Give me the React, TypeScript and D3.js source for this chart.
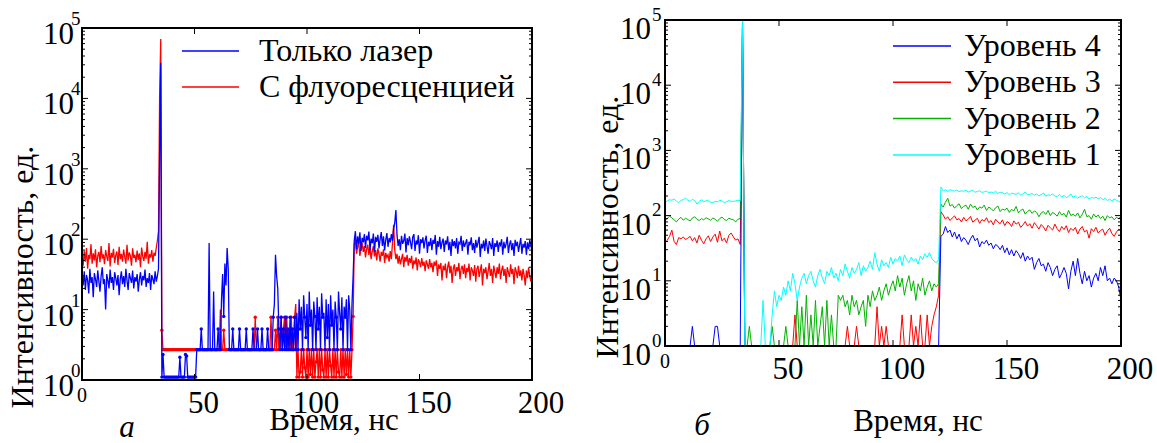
import React, { useEffect, useRef } from "react";
import * as d3 from "d3";

// panel "а": sampled every 0.5 ns, each chunk keeps its own start time
const laserPre = [
  28, 22, 35, 19, 31, 26, 17, 38, 24, 29,
  15, 33, 27, 21, 36, 25, 18, 30, 40, 23,
  27, 10, 32, 26, 20, 37, 24, 29, 19, 34,
  28, 22, 31, 16, 27, 35, 23, 30, 21, 38,
  26, 19, 33, 28, 24, 36, 20, 29, 25, 32,
  18, 27, 34, 22, 30, 26, 37, 21, 28, 24,
  33, 19, 31, 27, 23, 35, 25, 30, 38,
];
const laserPeak = [1600, 32000];
const laserLow = [
  1.1, 2.3, 1.1, 1.1, 1.1, 1.1, 1.1, 1.1, 1.1, 1.1,
  1.1, 1.1, 1.1, 1.1, 1.1, 1.1, 2.1, 1.1, 1.1, 1.1,
  1.1, 2.3, 2.2, 1.1, 1.1, 1.1, 1.1, 1.1, 1.1, 1.1,
  1.1,
  2.7, 2.7, 2.7, 2.7, 5.3, 2.7, 2.7, 2.7, 2.7, 2.7,
  2.7, 88, 2.7, 2.7, 2.7, 18, 2.7, 2.7, 2.7, 5.3,
  2.7, 2.7, 14, 32, 8, 45, 22, 75, 38, 2.7,
  2.7, 2.7, 5.3, 2.7, 2.7, 2.7, 2.7, 2.7, 5.3, 2.7,
  2.7, 2.7, 2.7, 2.7, 5.3, 2.7, 2.7, 2.7, 2.7, 2.7,
  5.3, 2.7, 2.7, 2.7, 5.3, 2.7, 2.7, 2.7, 5.3, 2.7,
  2.7, 2.7, 2.7, 5.3, 2.7, 2.7, 2.7, 2.7, 7.8, 12,
  60, 30, 20, 5.3, 2.7, 7.8, 2.7, 5.3, 2.7, 7.8,
  2.7, 5.3, 2.7, 7.8, 2.7, 5.3, 2.7, 7.8, 2.7,
  9, 2.7, 14, 5.3, 11, 2.7, 16, 7.8, 4, 12,
  2.7, 18, 6, 10, 2.7, 13, 8, 2.7, 15, 5.3,
  11, 2.7, 17, 7.8, 9, 2.7, 14, 4, 12, 2.7,
  16, 6, 10, 2.7, 13, 7.8, 2.7, 18, 9, 5.3,
  15, 2.7, 11, 7.8, 14, 2.7, 16, 10, 2.7, 12,
  30,
];
const laserPost = [
  95, 130, 72, 110, 85, 125, 68, 105, 90, 118,
  75, 112, 96, 128, 70, 102, 88, 120, 66, 108,
  92, 115, 74, 100, 126, 80, 110, 69, 98, 122,
  78, 104, 90, 118, 95, 140, 170, 260, 115, 80,
  100, 70, 112, 86, 95, 120, 65, 104, 82, 110,
  90, 72, 108, 118, 68, 96, 84, 114, 62, 100,
  88, 106, 74, 96, 112, 64, 92, 80, 104, 70,
  98, 86, 115, 60, 94, 78, 108, 72, 90, 102,
  66, 96, 84, 110, 70, 92, 58, 100, 80, 94,
  74, 104, 62, 90, 86, 112, 68, 96, 78, 88,
  100, 60, 92, 82, 106, 70, 88, 64, 98, 76,
  90, 108, 56, 86, 74, 96, 68, 102, 80, 62,
  94, 84, 72, 104, 58, 88, 78, 96, 66, 90,
  82, 100, 60, 92, 74, 86, 108, 64, 84, 96,
  70, 88, 58, 98, 80, 92, 66, 84, 104, 62,
  86, 76, 94, 60, 90, 72, 98, 82, 68,
];

const fluorPre = [
  55, 42, 68, 48, 75, 38, 60, 52, 85, 45,
  63, 50, 72, 40, 58, 66, 47, 80, 53, 61,
  44, 70, 57, 49, 88, 41, 64, 55, 73, 46,
  59, 67, 43, 78, 52, 62, 48, 71, 56, 45,
  83, 50, 65, 58, 42, 74, 54, 60, 47, 69,
  51, 63, 40, 76, 57, 49, 66, 53, 92, 45,
  61, 55, 70, 48, 64, 58, 75, 95, 130,
];
const fluorPeak = [11000, 70000];
const fluorLow = [
  5.1, 2.7, 2.7, 2.7, 2.7, 2.7, 2.7, 2.7, 2.7, 2.7,
  2.7, 2.7, 2.7, 2.7, 2.7, 2.7, 2.7, 2.7, 2.7, 2.7,
  2.7, 2.7, 2.7, 2.7, 2.7, 2.7, 2.7, 2.7, 2.7, 2.7,
  2.7, 2.7, 2.7, 2.7, 2.7, 2.7, 2.7, 2.7, 2.7, 2.7,
  2.7, 2.7, 2.7, 2.7, 2.7, 2.7, 2.7, 2.7, 2.7, 2.7,
  2.7, 2.7, 10, 2.7, 2.7, 5.1, 2.7, 2.7, 2.7, 2.7,
  2.7, 2.7, 2.7, 2.7, 2.7, 2.7, 2.7, 2.7, 2.7, 2.7,
  2.7, 2.7, 2.7, 2.7, 2.7, 2.7, 2.7, 2.7, 2.7, 2.7,
  2.7, 2.7, 2.7, 7.8, 2.7, 2.7, 2.7, 2.7, 2.7, 2.7,
  2.7, 2.7, 2.7, 2.7, 2.7, 2.7, 2.7, 7.8, 2.7, 2.7,
  2.7, 5.1, 2.7, 7.8, 2.7, 2.7, 7.8, 2.7, 5.1, 7.8,
  2.7, 7.8, 2.7, 5.1, 2.7, 7.8, 2.7, 2.7, 7.8, 12,
  1.1, 2.7, 1.1, 1.3, 2.7, 1.1, 2.7, 1.5, 1.1, 2.7,
  1.1, 2.7, 1.2, 2.7, 1.1, 2.7, 1.1, 1.8, 2.7, 1.1,
  2.7, 1.1, 2.7, 1.4, 1.1, 2.7, 1.1, 2.7, 1.1, 2.7,
  1.6, 1.1, 2.7, 1.1, 2.7, 1.1, 2.7, 1.3, 1.1, 2.7,
  1.1, 2.7, 1.1, 2.7, 1.2, 2.7, 1.1, 2.7, 1.1, 2.7,
  8,
];
const fluorPost = [
  85, 100, 62, 78, 92, 58, 74, 88, 66, 80,
  55, 72, 84, 60, 76, 52, 68, 80, 57, 70,
  50, 74, 62, 48, 66, 58, 72, 46, 64, 55,
  60, 48, 68, 52, 90, 160, 70, 52, 62, 45,
  58, 44, 52, 62, 40, 56, 48, 60, 42, 54,
  46, 58, 38, 50, 44, 55, 36, 52, 47, 40,
  54, 42, 48, 35, 50, 44, 38, 52, 40, 46,
  34, 48, 42, 50, 30, 44, 38, 46, 26, 42,
  36, 45, 28, 40, 48, 33, 42, 24, 38, 44,
  30, 40, 35, 46, 27, 38, 42, 32, 44, 28,
  39, 34, 45, 26, 40, 36, 30, 43, 25, 38,
  42, 29, 36, 44, 22, 38, 33, 40, 27, 35,
  46, 30, 38, 24, 42, 34, 28, 40, 32, 45,
  27, 36, 42, 30, 38, 24, 40, 34, 29, 44,
  32, 38, 23, 40, 35, 28, 42, 30, 36, 26,
  38, 31, 22, 36, 28, 40, 30, 25, 34,
];

// panel "б": one value per ns, 0..200
const level4 = [
  1, 1, 1, 1, 1, 1, 1, 1, 1, 1,
  1, 1, 2, 1, 1, 1, 1, 1, 1, 1,
  1, 1, 2, 2, 1, 1, 1, 1, 1, 1,
  1, 1, 1, 1, 100000, 1, 1, 1, 1, 1,
  1, 1, 1, 1, 1, 1, 1, 1, 1, 1,
  1, 1, 1, 1, 1, 1, 1, 1, 1, 1,
  1, 1, 1, 1, 1, 1, 1, 1, 1, 1,
  1, 1, 1, 1, 1, 1, 1, 1, 1, 1,
  1, 1, 1, 1, 1, 1, 1, 1, 1, 1,
  1, 1, 1, 1, 1, 1, 1, 1, 1, 1,
  1, 1, 1, 1, 1, 1, 1, 1, 1, 1,
  1, 1, 1, 1, 1, 1, 1, 1, 1, 1,
  1, 48, 52, 68, 55, 60, 47, 56, 44, 52,
  40, 46, 42, 36, 44, 50, 41, 45, 33, 40,
  37, 42, 35, 38, 31, 36, 34, 30, 35, 27,
  32, 25, 30, 24, 29, 26, 22, 27, 20, 24,
  21, 23, 15, 19, 22, 17, 18, 14, 19, 16,
  12, 15, 17, 11, 13, 16, 13, 7.5, 14, 20,
  12, 22, 13, 9, 14, 10, 12, 8, 11, 13,
  10, 16, 12, 17, 10, 11, 9, 11, 10, 8,
  5,
];
const level3 = [
  38, 42, 48, 60, 40, 36, 46, 44, 47, 43,
  45, 48, 41, 46, 38, 50, 42, 37, 44, 49,
  40, 47, 52, 39, 58, 41, 45, 38, 50, 54,
  47, 42, 44, 36, 100000, 1, 1, 1, 1, 1,
  1, 1, 1, 1, 1, 1, 1, 1, 1, 1,
  1, 1, 1, 1, 1, 1, 1, 3, 1, 1,
  1, 1, 1, 1, 1, 1, 1, 1, 1, 1,
  1, 1, 1, 1, 1, 1, 1, 1, 1, 1,
  2, 1, 1, 1, 2, 1, 1, 1, 1, 1,
  1, 1, 1, 4, 1, 2, 1, 2, 1, 1,
  1, 1, 1, 1, 3, 1, 1, 1, 3, 1,
  2, 1, 3, 1, 1, 3, 1, 2, 3, 4,
  6, 115, 102, 88, 96, 84, 92, 99, 86, 90,
  80, 94, 83, 88, 97, 79, 85, 91, 76, 87,
  82, 93, 78, 84, 72, 88, 80, 75, 86, 70,
  81, 77, 68, 83, 74, 79, 66, 72, 81, 69,
  75, 64, 78, 70, 62, 73, 67, 58, 71, 65,
  60, 74, 63, 57, 68, 61, 70, 55, 64, 59,
  66, 52, 62, 68, 56, 60, 45, 63, 57, 66,
  54, 59, 62, 50, 58, 64, 53, 48, 56, 62,
  60,
];
const level2 = [
  84, 90, 98, 92, 86, 80, 88, 94, 85, 91,
  87, 83, 92, 96, 88, 84, 90, 86, 93, 89,
  85, 92, 88, 82, 90, 95, 87, 84, 91, 88,
  86, 80, 88, 90, 100000, 1, 1, 2, 1, 1,
  1, 1, 1, 1, 1, 1, 1, 2, 1, 1,
  1, 1, 1, 2, 1, 1, 1, 1, 5, 1,
  4, 1, 6, 1, 3, 1, 5, 1, 2, 4,
  1, 5, 1, 3, 1, 1, 6, 5, 6, 4,
  5, 3, 6, 4, 5, 3, 4, 5, 2, 6,
  4, 7, 5, 6, 8, 5, 7, 9, 6, 8,
  10, 7, 12, 8, 11, 6, 9, 12, 7, 10,
  5, 9, 7, 11, 6, 8, 10, 7, 9, 8,
  9, 150, 135, 160, 185, 140, 148, 130, 142, 152,
  128, 138, 145, 125, 150, 133, 140, 122, 136, 130,
  145, 120, 135, 128, 118, 132, 140, 115, 126, 122,
  130, 112, 124, 118, 138, 110, 120, 126, 105, 116,
  122, 108, 118, 112, 96, 110, 115, 104, 120, 100,
  112, 106, 98, 115, 102, 108, 95, 120, 100, 105,
  98, 110, 92, 104, 125, 96, 100, 88, 106, 95,
  102, 90, 98, 84, 100, 92, 96, 86, 94, 90,
  98,
];
const level1 = [
  160, 168, 175, 172, 180, 166, 158, 170, 176, 185,
  172, 164, 178, 170, 150, 165, 175, 162, 170, 168,
  160, 158, 165, 162, 172, 168, 158, 163, 170, 166,
  165, 168, 172, 170, 100000, 1, 1, 1, 1, 1,
  1, 1, 1, 5, 1, 1, 1, 3, 7, 4,
  6, 5, 8, 6, 10, 7, 13, 9, 5, 8,
  11, 13, 9, 12, 14, 10, 8, 12, 15, 11,
  9, 14, 12, 16, 11, 13, 10, 15, 12, 18,
  14, 11, 16, 13, 15, 19, 12, 17, 14, 16,
  20, 15, 27, 18, 14, 21, 17, 19, 16, 23,
  18, 22, 20, 24, 17, 25, 21, 19, 23, 20,
  22, 18, 24, 21, 26, 23, 27, 22, 20, 19,
  21, 275, 240, 248, 235, 250, 242, 238, 246, 232,
  240, 236, 244, 230, 238, 245, 228, 235, 240, 226,
  232, 238, 225, 230, 222, 236, 218, 228, 224, 215,
  225, 210, 220, 216, 212, 224, 205, 215, 230, 208,
  212, 218, 205, 215, 200, 210, 222, 198, 208, 204,
  215, 200, 196, 210, 192, 205, 188, 198, 215, 190,
  200, 185, 195, 202, 188, 196, 180, 190, 185, 192,
  182, 188, 175, 185, 170, 178, 168, 180, 172, 165,
  160,
];

const xTicks = [0, 50, 100, 150, 200];
const exponents = [0, 1, 2, 3, 4, 5];
const legendA = ["Только лазер", "С флуоресценцией"];
const legendB = ["Уровень 4", "Уровень 3", "Уровень 2", "Уровень 1"];

const FONT = "Liberation Serif, Tinos, Times New Roman, DejaVu Serif, serif";

type Pt = { t: number; v: number };

const chunk = (start: number, values: number[], step = 0.5): Pt[] =>
  values.map((v, k) => ({ t: start + k * step, v }));

const panelA = {
  id: "a",
  left: 82, right: 532, top: 28, bottom: 380,
  lineWidth: 1.3,
  series: [
    { color: "#ff0000", dots: true, pts: [...chunk(0, fluorPre), ...chunk(34.5, fluorPeak), ...chunk(35.5, fluorLow), ...chunk(121, fluorPost)] },
    { color: "#0000ff", dots: true, pts: [...chunk(0, laserPre), ...chunk(34.5, laserPeak), ...chunk(35.5, laserLow), ...chunk(121, laserPost)] },
  ],
  legend: { names: legendA, colors: ["#0000ff", "#ff0000"], x1: 182, x2: 239, tx: 259, y0: 51, dy: 36 },
  ylab: { tenEnd: 74, tenDy: 16, expX: 71, expDy: -3 },
  ytitle: { x: 33, y: 277 },
  xtitle: { x: 334, y: 430 },
  letter: { text: "а", x: 127, y: 437 },
};

const panelB = {
  id: "b",
  left: 665, right: 1121, top: 20, bottom: 346,
  lineWidth: 1,
  series: [
    { color: "#ff0000", dots: false, pts: chunk(0, level3, 1) },
    { color: "#00b300", dots: false, pts: chunk(0, level2, 1) },
    { color: "#0000ff", dots: false, pts: chunk(0, level4, 1) },
    { color: "#00ffff", dots: false, pts: chunk(0, level1, 1) },
  ],
  legend: { names: legendB, colors: ["#0000ff", "#ff0000", "#00b300", "#00ffff"], x1: 893, x2: 951, tx: 964, y0: 46, dy: 36.3 },
  ylab: { tenEnd: 651, tenDy: 19, expX: 652, expDy: 0.5 },
  ytitle: { x: 618, y: 227 },
  xtitle: { x: 918, y: 431 },
  letter: { text: "б", x: 702, y: 435 },
};

function drawPanel(svg: any, p: any) {
  const x = d3.scaleLinear().domain([0, 200]).range([p.left, p.right]);
  const y = d3.scaleLog().domain([1, 1e5]).range([p.bottom, p.top]);

  svg.append("clipPath").attr("id", "clip-" + p.id)
    .append("rect")
    .attr("x", p.left).attr("y", p.top)
    .attr("width", p.right - p.left).attr("height", p.bottom - p.top);

  const plot = svg.append("g").attr("clip-path", `url(#clip-${p.id})`);
  const line = d3.line<Pt>().x((d) => x(d.t)).y((d) => y(Math.max(1, d.v)));

  p.series.forEach((s: any) => {
    plot.append("path")
      .attr("d", line(s.pts))
      .attr("fill", "none")
      .attr("stroke", s.color)
      .attr("stroke-width", p.lineWidth);
    if (s.dots) {
      plot.selectAll(null)
        .data(s.pts.filter((d: Pt) => d.v <= 8))
        .enter().append("circle")
        .attr("cx", (d: Pt) => x(d.t))
        .attr("cy", (d: Pt) => y(d.v))
        .attr("r", 1.7)
        .attr("fill", s.color);
    }
  });

  // ticks, inward on all four sides
  const ticks = svg.append("g").attr("stroke", "#000").attr("stroke-width", 1);
  exponents.forEach((e) => {
    const yy = y(Math.pow(10, e));
    ticks.append("line").attr("x1", p.left).attr("x2", p.left + 6).attr("y1", yy).attr("y2", yy);
    ticks.append("line").attr("x1", p.right).attr("x2", p.right - 6).attr("y1", yy).attr("y2", yy);
    if (e < 5) {
      d3.range(2, 10).forEach((m) => {
        const ym = y(m * Math.pow(10, e));
        ticks.append("line").attr("x1", p.left).attr("x2", p.left + 3).attr("y1", ym).attr("y2", ym);
        ticks.append("line").attr("x1", p.right).attr("x2", p.right - 3).attr("y1", ym).attr("y2", ym);
      });
    }
  });
  xTicks.slice(1, -1).forEach((t) => {
    ticks.append("line").attr("x1", x(t)).attr("x2", x(t)).attr("y1", p.bottom).attr("y2", p.bottom - 6);
    ticks.append("line").attr("x1", x(t)).attr("x2", x(t)).attr("y1", p.top).attr("y2", p.top + 6);
  });

  svg.append("rect")
    .attr("x", p.left).attr("y", p.top)
    .attr("width", p.right - p.left).attr("height", p.bottom - p.top)
    .attr("fill", "none").attr("stroke", "#000").attr("stroke-width", 2);

  const txt = svg.append("g").style("font-family", FONT).attr("fill", "#000");

  exponents.forEach((e) => {
    const yy = y(Math.pow(10, e));
    txt.append("text").attr("x", p.ylab.tenEnd).attr("y", yy + p.ylab.tenDy)
      .attr("text-anchor", "end").attr("font-size", 31).text("10");
    txt.append("text").attr("x", p.ylab.expX).attr("y", yy + p.ylab.expDy)
      .attr("font-size", 19).text(String(e));
  });

  xTicks.forEach((t) => {
    if (t === 0) {
      txt.append("text").attr("x", x(t)).attr("y", p.bottom + 22)
        .attr("text-anchor", "middle").attr("font-size", 20).text("0");
    } else {
      txt.append("text").attr("x", x(t) + 9).attr("y", p.bottom + 33)
        .attr("text-anchor", "middle").attr("font-size", 31).text(String(t));
    }
  });

  txt.append("text")
    .attr("transform", `translate(${p.ytitle.x},${p.ytitle.y}) rotate(-90)`)
    .attr("text-anchor", "middle").attr("font-size", 32)
    .text("Интенсивность, ед.");

  txt.append("text").attr("x", p.xtitle.x).attr("y", p.xtitle.y)
    .attr("text-anchor", "middle").attr("font-size", 31).text("Время, нс");

  txt.append("text").attr("x", p.letter.x).attr("y", p.letter.y)
    .attr("text-anchor", "middle").attr("font-size", 31).attr("font-style", "italic")
    .text(p.letter.text);

  const lg = p.legend;
  lg.names.forEach((name: string, i: number) => {
    const ly = lg.y0 + i * lg.dy;
    svg.append("line").attr("x1", lg.x1).attr("x2", lg.x2).attr("y1", ly).attr("y2", ly)
      .attr("stroke", lg.colors[i]).attr("stroke-width", 1.5);
    txt.append("text").attr("x", lg.tx).attr("y", ly + 10).attr("font-size", 32).text(name);
  });
}

export default function App() {
  const ref = useRef<SVGSVGElement>(null);

  useEffect(() => {
    const svg = d3.select(ref.current);
    svg.selectAll("*").remove();
    drawPanel(svg, panelA);
    drawPanel(svg, panelB);
  }, []);

  return (
    <svg
      ref={ref}
      width={1157}
      height={443}
      style={{ position: "absolute", left: 0, top: 0, background: "#fff" }}
    />
  );
}
